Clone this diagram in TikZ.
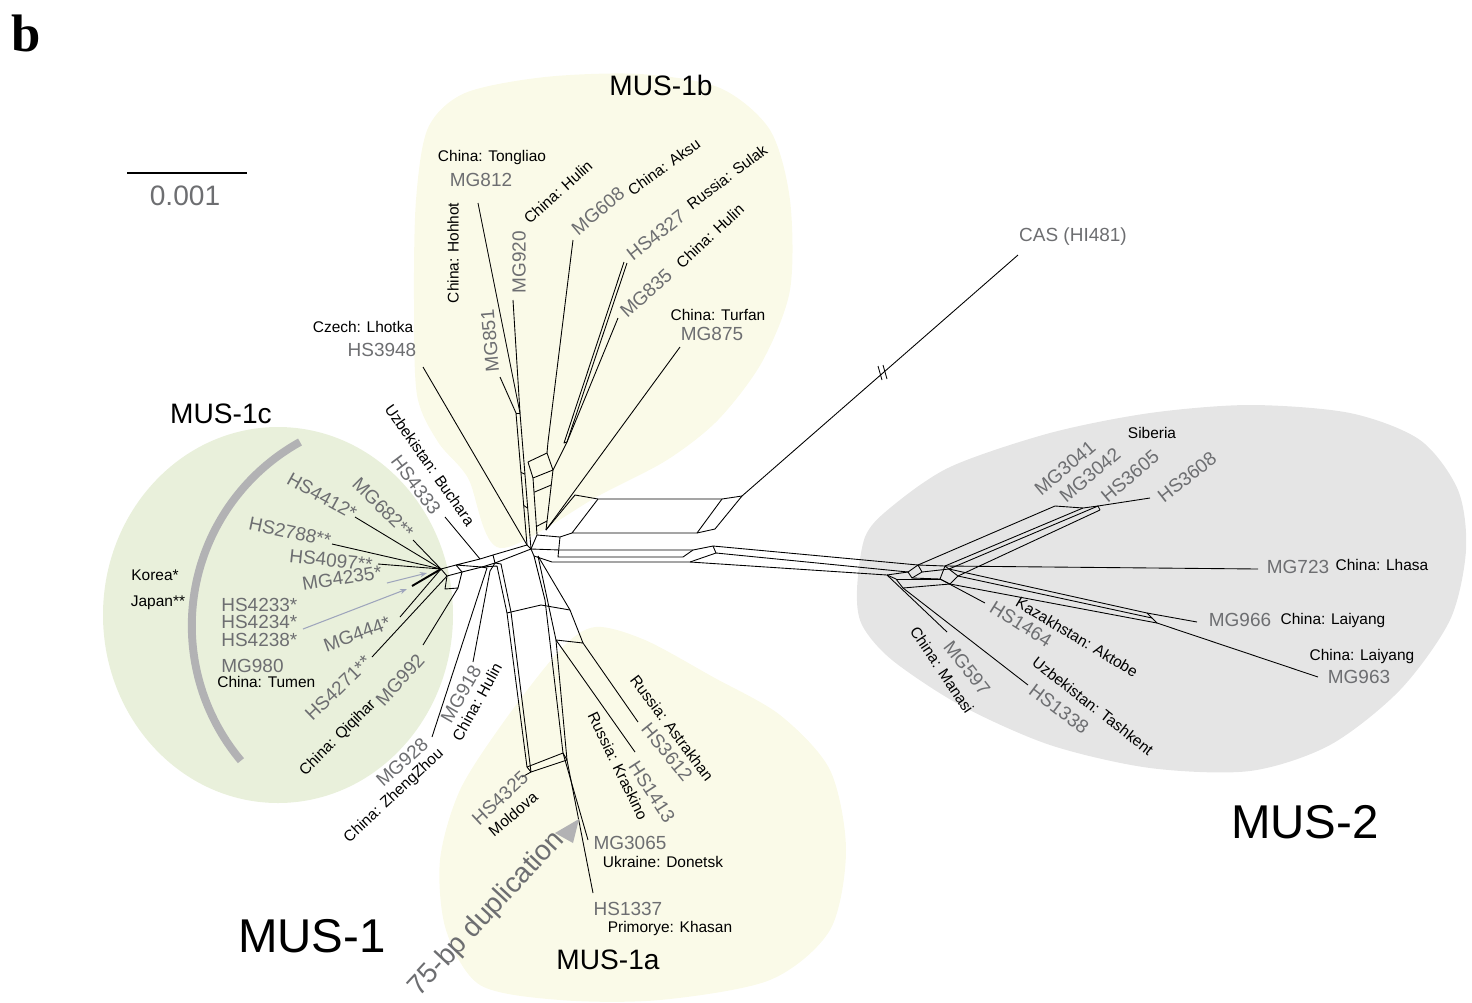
\documentclass[tikz,border=0pt]{standalone}
\usepackage{fontspec}
\setmainfont{Liberation Sans}
\newfontfamily\panelfont{Liberation Serif}
\usetikzlibrary{arrows.meta,calc}
\definecolor{idgray}{RGB}{109,110,113}
\definecolor{mustwo}{RGB}{229,229,229}
\definecolor{musoneb}{RGB}{250,250,232}
\definecolor{musonec}{RGB}{233,240,219}
\definecolor{bargray}{RGB}{178,178,180}
\definecolor{hintblue}{RGB}{158,165,188}

\begin{document}
\begin{tikzpicture}[x=0.02cm,y=-0.02cm,
	sample/.style={text=idgray,font=\fontsize{10.8}{12}\selectfont,inner sep=0pt},
	locality/.style={font=\fontsize{8.8}{10}\selectfont,inner sep=0pt},
	clade/.style={font=\fontsize{16}{18}\selectfont,inner sep=0pt},
	bigclade/.style={font=\fontsize{27}{30}\selectfont,inner sep=0pt},
	net/.style={line width=0.5pt,line join=round},
	hint/.style={draw=hintblue,line width=0.6pt,-{Stealth[length=4pt,width=3pt]}}]
\useasboundingbox (0,0) rectangle (1472,1002);

% clade areas
\fill[musoneb] plot[smooth cycle] coordinates {(500,548) (468,478) (438,442) (417,395) (414,300) (416,200) (428,128) (465,93) (545,77) (640,74) (720,88) (770,130) (790,200) (790,290) (762,362) (718,420) (667,460) (600,495)};
\fill[musoneb] plot[smooth cycle] coordinates {(560,650) (595,627) (645,640) (713,677) (780,715) (830,770) (846,850) (830,930) (770,980) (660,1000) (560,1000) (480,985) (446,930) (440,860) (460,790) (505,720)};
\fill[musonec] (278,615) ellipse [x radius=175, y radius=188];
\fill[mustwo] plot[smooth cycle] coordinates {(857,590) (865,537) (890,508) (950,467) (1050,433) (1150,413) (1250,405) (1350,413) (1420,440) (1458,490) (1466,550) (1450,620) (1400,690) (1330,745) (1250,771) (1150,768) (1050,745) (960,705) (892,660) (862,625)};
\draw[bargray,line width=4.5pt] (300,442) arc[start angle=241, end angle=140, radius=210];

% panel and scale
\node[font=\panelfont\fontsize{30}{30}\selectfont\bfseries,inner sep=0pt] (panel) at (26,33) {b};
\coordinate (s0) at (127,173);
\coordinate (s1) at (247,173);
\draw[line width=1pt] (s0) -- (s1);
\node[clade,text=idgray] (scale) at (185,196) {0.001};

% left cluster
\coordinate (la) at (441,569);
\coordinate (lb) at (456,565);
\coordinate (lc) at (462,572);
\coordinate (ld) at (447,576);
\coordinate (le) at (445,589);
\coordinate (lf) at (458,588);
\coordinate (lm) at (480,559);
\coordinate (ln) at (493,555);
\coordinate (lo) at (495,563);
\coordinate (lp) at (482,567);
\coordinate (x4412) at (355,517);
\coordinate (x682) at (413,540);
\coordinate (x2788) at (332,544);
\coordinate (x4097) at (378,564);
\coordinate (x980) at (412,586);
\coordinate (x444) at (400,617);
\coordinate (x4271) at (372,657);
\coordinate (x992) at (423,645);
\coordinate (x4333) at (445,517);
\coordinate (x3948) at (423,367);
\draw[net] (la) -- (lb) -- (lc) -- (ld) -- cycle;
\draw[net] (ld) -- (le) -- (lf) -- (lc);
\draw[net] (lb) -- (lm) -- (ln) -- (lo) -- (lp) -- cycle;
\draw[net] (lc) -- (lp);
\foreach \leaf in {x4412,x682,x2788,x4097,x444}
	\draw[net] (\leaf) -- (la);
\draw[net,line width=1.1pt] (x980) -- (la);
\draw[net] (x4271) -- (ld);
\draw[net] (x992) -- (lf);
\draw[net] (x4333) -- (lm);

% centre and MUS-1b
\coordinate (ca) at (527,545);
\coordinate (cb) at (531,549);
\coordinate (cc) at (534,556);
\coordinate (ta) at (516,413);
\coordinate (tb) at (520,413);
\coordinate (td) at (548,442);
\coordinate (te) at (567,442);
\coordinate (teb) at (564,443);
\coordinate (tf) at (528,462);
\coordinate (tg) at (547,453);
\coordinate (th) at (553,470);
\coordinate (ti) at (533,478);
\coordinate (tj) at (537,535);
\coordinate (tk) at (546,530);
\coordinate (x812) at (478,203);
\coordinate (x851) at (500,377);
\coordinate (x920) at (513,300);
\coordinate (x608) at (573,240);
\coordinate (x4327) at (627,263);
\coordinate (x4327b) at (624,262);
\coordinate (x835) at (618,318);
\coordinate (x875) at (680,347);
\draw[net] (ln) -- (ca) -- (cb) -- (cc);
\draw[net] (lo) -- (cb);
\draw[net] (x3948) -- (ca);
\draw[net] (x812) -- (tb);
\draw[net] (x920) -- (tb);
\draw[net] (x851) -- (ta);
\draw[net] (ta) -- (tb);
\draw[net] (ta) -- (ca);
\draw[net] (tb) -- (cb);
\foreach \t in {0.45,0.7}
	\draw[net] ($(ta)!\t!(ca)$) -- ($(tb)!\t!(cb)$);
\draw[net] (x608) -- (td) -- (tg);
\draw[net] (x4327) -- (te);
\draw[net] (x4327b) -- (teb) -- (te);
\draw[net] (x835) -- (te) -- (th);
\draw[net] (tf) -- (tg) -- (th) -- (ti) -- cycle;
\draw[net] (ti) -- (tj) -- (cb);
\draw[net] (th) -- (tk);
\draw[net] (x875) -- (tk);
\foreach \t in {0.25,0.85}
	\draw[net] ($(ti)!\t!(tj)$) -- ($(th)!\t!(tk)$);

% band to MUS-2 and CAS
\coordinate (ra) at (575,495);
\coordinate (rb) at (598,499);
\coordinate (rc) at (722,499);
\coordinate (rd) at (742,496);
\coordinate (re) at (572,533);
\coordinate (rf) at (697,533);
\coordinate (rg) at (715,529);
\coordinate (rh) at (560,537);
\coordinate (ri) at (558,557);
\coordinate (rj) at (560,550);
\coordinate (rk) at (693,550);
\coordinate (rl) at (713,546);
\coordinate (rm) at (683,557);
\coordinate (rn) at (552,562);
\coordinate (ro) at (690,562);
\coordinate (rp) at (716,553);
\coordinate (xcas) at (1018,255);
\coordinate (brk) at (883,373);
\draw[net] (tk) -- (ra) -- (rb) -- (rc) -- (rd);
\draw[net] (rb) -- (re) -- (rf) -- (rg) -- (rd);
\draw[net] (rc) -- (rf);
\draw[net] (tj) -- (rh) -- (re);
\draw[net] (rh) -- (ri) -- (rm) -- (rk);
\draw[net] (cb) -- (rj) -- (rk) -- (rl);
\draw[net] (cc) -- (rn) -- (ro) -- (rp) -- (rl);
\draw[net] (rd) -- (xcas);
\draw[net] ([shift={(-5,-7)}]brk) -- ([shift={(-1,7)}]brk);
\draw[net] ([shift={(0,-8)}]brk) -- ([shift={(4,6)}]brk);

% MUS-2
\coordinate (h1) at (908,572);
\coordinate (h2) at (918,565);
\coordinate (h3) at (922,572);
\coordinate (h4) at (912,578);
\coordinate (h5) at (945,566);
\coordinate (h5b) at (949,569);
\coordinate (h6) at (940,579);
\coordinate (h7) at (958,576);
\coordinate (h8) at (950,584);
\coordinate (hq) at (887,575);
\coordinate (hr) at (896,579);
\coordinate (hs) at (903,588);
\coordinate (sa) at (1055,506);
\coordinate (sb) at (1083,508);
\coordinate (sc) at (1098,506);
\coordinate (sd) at (1100,510);
\coordinate (ga) at (1147,613);
\coordinate (gb) at (1152,618);
\coordinate (gc) at (1157,623);
\coordinate (x3608) at (1150,498);
\coordinate (x723) at (1258,569);
\coordinate (x966) at (1197,622);
\coordinate (x963) at (1318,677);
\coordinate (x1464) at (985,603);
\coordinate (x597) at (947,632);
\coordinate (x1338) at (1028,685);
\draw[net] (rl) -- (h2);
\draw[net] (rp) -- (h1);
\draw[net] (ro) -- (hq);
\draw[net] (h1) -- (h2) -- (h3) -- (h4) -- cycle;
\draw[net] (h2) -- (h5);
\draw[net] (h3) -- (h5b);
\draw[net] (h4) -- (h6);
\draw[net] (h5) -- (h7) -- (h8) -- (h6) -- cycle;
\draw[net] (h2) -- (sa) -- (sb) -- (sc) -- (sd);
\draw[net] (h5) -- (sb);
\draw[net] (h5b) -- (sc);
\draw[net] (h7) -- (sd);
\draw[net] (sc) -- (x3608);
\draw[net] (h5) -- (x723);
\draw[net] (h5b) -- (ga) -- (gb) -- (gc);
\draw[net] (h7) -- (gb);
\draw[net] (h8) -- (gc);
\draw[net] (ga) -- (x966);
\draw[net] (gc) -- (x963);
\draw[net] (h6) -- (x1464);
\draw[net] (hq) -- (h1);
\draw[net] (hq) -- (hr) -- (hs) -- (h8);
\draw[net] (hr) -- (h6);
\draw[net] (hq) -- (x597);
\draw[net] (hs) -- (x1338);

% MUS-1a
\coordinate (ba) at (497,566);
\coordinate (bb) at (501,564);
\coordinate (bc) at (507,613);
\coordinate (bd) at (511,612);
\coordinate (be) at (527,767);
\coordinate (bf) at (531,772);
\coordinate (bg) at (563,753);
\coordinate (bh) at (567,760);
\coordinate (bj) at (545,600);
\coordinate (bk) at (538,556);
\coordinate (bl) at (556,640);
\coordinate (bm) at (541,605);
\coordinate (bn) at (570,610);
\coordinate (bo) at (583,643);
\coordinate (bp) at (490,571);
\coordinate (bq) at (487,568);
\coordinate (x4325) at (522,777);
\coordinate (x3065) at (588,840);
\coordinate (x1337) at (593,893);
\coordinate (x3612) at (638,722);
\coordinate (x1413) at (635,752);
\coordinate (x918) at (473,662);
\coordinate (x928) at (432,737);
\draw[net] (lp) -- (ba) -- (bc) -- (be);
\draw[net] (lo) -- (bb) -- (bd) -- (bf);
\draw[net] (bc) -- (bd) -- (bm) -- (bn);
\draw[net] (be) -- (bg) -- (bh) -- (bf) -- cycle;
\draw[net] (bf) -- (x4325);
\draw[net] (cc) -- (bj) -- (bg);
\draw[net] (bk) -- (bn) -- (bo);
\draw[net] (bk) -- (bl) -- (bh);
\draw[net] (bl) -- (bo) -- (x3612);
\draw[net] (bl) -- (x1413);
\draw[net] (bg) -- (x3065);
\draw[net] (bh) -- (x1337);
\draw[net] (lo) -- (bp) -- (x918);
\draw[net] (lp) -- (bq) -- (x928);

% pointers and duplication mark
\coordinate (a4235) at (387,583);
\coordinate (b4235) at (427,573);
\coordinate (a4233) at (303,629);
\coordinate (b4233) at (407,589);
\draw[hint] (a4235) -- (b4235);
\draw[hint] (a4233) -- (b4233);
\fill[bargray] (579,819) -- (555,833) -- (573,843) -- cycle;

% clade names
\node[clade] (c1b) at (661,85) {MUS-1b};
\node[clade] (c1c) at (221,414) {MUS-1c};
\node[clade] (c1a) at (608,960) {MUS-1a};
\node[bigclade] (c1) at (312,936) {MUS-1};
\node[bigclade] (c2) at (1305,822) {MUS-2};
\node[clade,text=idgray,rotate=47] (dup) at (487,914) {75-bp duplication};

% MUS-1c labels
\node[sample,rotate=-29] (n4412) at (322,496) {HS4412*};
\node[sample,rotate=-45] (n682) at (383,508) {MG682**};
\node[sample,rotate=-12] (n2788) at (290,532) {HS2788**};
\node[sample,rotate=-6] (n4097) at (331,560) {HS4097**};
\node[sample,rotate=9] (n4235) at (342,578) {MG4235*};
\node[sample,anchor=west] (n4233) at (221,605) {HS4233*};
\node[sample,anchor=west] (n4234) at (221,622) {HS4234*};
\node[sample,anchor=west] (n4238) at (221,640) {HS4238*};
\node[sample,anchor=west] (n980) at (221,666) {MG980};
\node[locality,anchor=west] (l980) at (217,682) {China: Tumen};
\node[sample,rotate=20] (n444) at (357,634) {MG444*};
\node[sample,rotate=44] (n4271) at (338,688) {HS4271**};
\node[sample,rotate=48] (n992) at (400,680) {MG992};
\node[locality,rotate=45] (l992) at (338,738) {China: Qiqihar};
\node[locality] (korea) at (155,575) {Korea*};
\node[locality] (japan) at (158,603) {Japan**};

% MUS-1b labels
\node[locality] (l3948) at (363,327) {Czech: Lhotka};
\node[sample] (n3948) at (382,350) {HS3948};
\node[locality,rotate=-55] (l4333) at (430,465) {Uzbekistan: Buchara};
\node[sample,rotate=-53] (n4333) at (416,485) {HS4333};
\node[locality] (l812) at (492,157) {China: Tongliao};
\node[sample] (n812) at (481,180) {MG812};
\node[locality,rotate=90] (l851) at (453,253) {China: Hohhot};
\node[sample,rotate=95] (n851) at (490,341) {MG851};
\node[sample,rotate=90] (n920) at (519,262) {MG920};
\node[locality,rotate=42] (l920) at (558,192) {China: Hulin};
\node[sample,rotate=40] (n608) at (598,211) {MG608};
\node[locality,rotate=36] (l608) at (664,167) {China: Aksu};
\node[sample,rotate=38] (n4327) at (656,235) {HS4327};
\node[locality,rotate=37] (l4327) at (727,177) {Russia: Sulak};
\node[sample,rotate=42] (n835) at (646,293) {MG835};
\node[locality,rotate=43] (l835) at (710,236) {China: Hulin};
\node[locality] (l875) at (718,315) {China: Turfan};
\node[sample] (n875) at (712,334) {MG875};
\node[sample] (ncas) at (1073,237) {CAS (HI481)};

% MUS-2 labels
\node[locality] (sib) at (1152,433) {Siberia};
\node[sample,rotate=40] (n3041) at (1065,468) {MG3041};
\node[sample,rotate=40] (n3042) at (1090,475) {MG3042};
\node[sample,rotate=40] (n3605) at (1130,476) {HS3605};
\node[sample,rotate=38] (n3608) at (1187,477) {HS3608};
\node[sample] (n723) at (1298,567) {MG723};
\node[locality] (l723) at (1382,565) {China: Lhasa};
\node[sample] (n966) at (1240,620) {MG966};
\node[locality] (l966) at (1333,620) {China: Laiyang};
\node[locality] (l963) at (1362,656) {China: Laiyang};
\node[sample] (n963) at (1359,677) {MG963};
\node[locality,rotate=-31] (l1464) at (1077,637) {Kazakhstan: Aktobe};
\node[sample,rotate=-32] (n1464) at (1021,624) {HS1464};
\node[locality,rotate=-38] (l1338) at (1093,706) {Uzbekistan: Tashkent};
\node[sample,rotate=-37] (n1338) at (1059,709) {HS1338};
\node[sample,rotate=-52] (n597) at (967,668) {MG597};
\node[locality,rotate=-56] (l597) at (942,670) {China: Manasi};

% MUS-1a labels
\node[locality,rotate=-53] (l3612) at (672,728) {Russia: Astrakhan};
\node[sample,rotate=-51] (n3612) at (667,752) {HS3612};
\node[locality,rotate=-64] (l1413) at (618,766) {Russia: Kraskino};
\node[sample,rotate=-57] (n1413) at (652,792) {HS1413};
\node[sample] (n3065) at (630,843) {MG3065};
\node[locality] (l3065) at (663,862) {Ukraine: Donetsk};
\node[sample] (n1337) at (628,909) {HS1337};
\node[locality] (l1337) at (670,928) {Primorye: Khasan};
\node[sample,rotate=43] (n4325) at (500,798) {HS4325};
\node[locality,rotate=40] (l4325) at (513,814) {Moldova};
\node[sample,rotate=42] (n928) at (402,762) {MG928};
\node[locality,rotate=43] (l928) at (394,796) {China: ZhengZhou};
\node[sample,rotate=60] (n918) at (461,694) {MG918};
\node[locality,rotate=61] (l918) at (477,702) {China: Hulin};
\end{tikzpicture}
\end{document}
